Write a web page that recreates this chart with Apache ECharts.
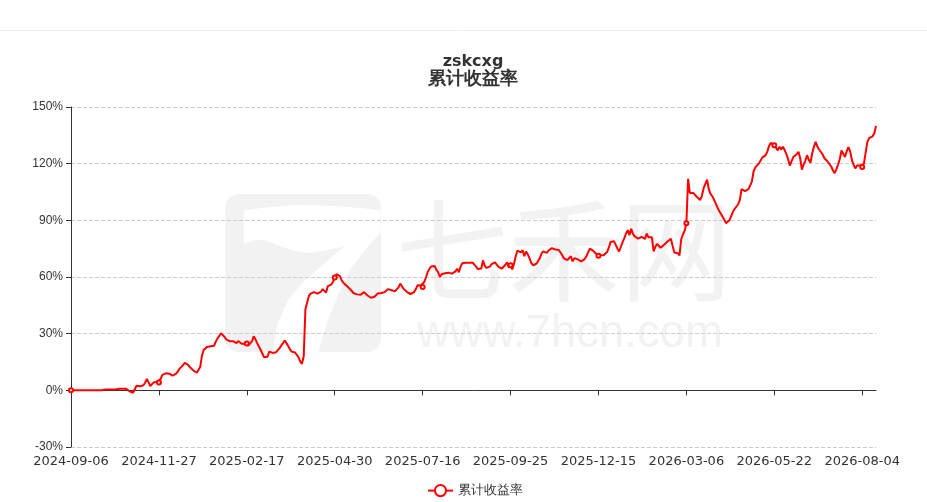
<!DOCTYPE html>
<html>
<head>
<meta charset="utf-8">
<script src="https://cdn.jsdelivr.net/npm/echarts@6/dist/echarts.min.js"></script>
<style>
html,body{margin:0;padding:0;background:#fff;}
#c{width:927px;height:502px;}
</style>
</head>
<body>
<div id="c"></div>
<script>
// ---- data ----
const TITLE_LINE1 = 'zskcxg';
const TITLE_LINE2 = '累计收益率';
const SERIES_NAME = '累计收益率';
const START_DATE = '2024-09-06';
const HOLIDAYS = [
  '2024-09-16','2024-09-17','2024-10-01','2024-10-02','2024-10-03','2024-10-04','2024-10-07',
  '2025-01-01','2025-01-28','2025-01-29','2025-01-30','2025-01-31','2025-02-03','2025-02-04',
  '2025-04-04','2025-05-01','2025-05-02','2025-05-05','2025-06-02',
  '2025-10-01','2025-10-02','2025-10-03','2025-10-06','2025-10-07','2025-10-08',
  '2026-01-01','2026-01-02','2026-02-16','2026-02-17','2026-02-18','2026-02-19','2026-02-20','2026-02-23',
  '2026-04-06','2026-05-01','2026-05-04','2026-05-05','2026-06-19'
];
const Y_MIN = -30, Y_MAX = 150, Y_STEP = 30;
const returns = [
  0,0,0,0,0,0,0,0,0,0,0,0,0,0,0,0,0,0,0,
  0.5,0.5,0.5,0.5,0.5,0.5,0.5,0.5,
  0.8,0.8,0.8,0.8,0.8,0.8,0.8,
  -0.5,-1.2,-1.3,-0.8,
  2.4,2.8,2.2,3.0,2.7,4.0,6.0,4.2,2.3,2.8,4.2,5.2,4.6,4.2,
  6.0,8.2,8.0,9.0,9.6,8.8,8.5,7.8,8.3,8.8,10.0,11.5,12.3,13.3,14.5,14.8,13.5,12.2,11.2,10.5,9.9,9.3,9.0,
  12.5,18.5,21.5,22.4,23.0,23.6,23.3,24.0,23.6,25.8,27.5,28.8,30.2,29.6,28.4,27.0,26.5,26.0,25.5,26.0,25.2,25.0,26.1,25.2,24.7,25.0,24.6,24.8,
  23.8,24.5,26.0,28.6,27.0,25.0,23.2,21.5,19.5,17.5,17.0,17.8,20.5,20.0,19.8,20.8,20.2,20.8,22.3,23.8,25.0,26.4,25.0,23.5,21.8,20.5,20.6,20.0,18.8,17.5,15.2,14.0,18.0,
  43.0,46.5,50.0,51.2,51.5,52.0,51.6,51.2,51.8,52.2,53.6,54.6,51.8,55.2,55.0,56.0,57.4,59.8,
  61.5,62.2,60.5,58.3,57.0,56.5,55.2,54.6,53.5,52.6,51.4,51.0,50.8,50.9,50.6,51.0,52.0,51.2,50.2,49.6,49.0,48.7,49.5,50.4,51.3,51.7,51.5,51.2,52.0,53.0,53.6,54.2,53.0,52.0,52.5,53.0,54.5,56.5,55.5,53.6,53.0,52.0,51.2,51.0,51.3,52.0,53.5,55.6,56.4,55.5,54.7,
  57.5,60.0,62.8,64.4,65.6,66.0,65.8,63.8,62.5,60.0,61.5,62.3,62.0,62.4,62.3,62.0,61.8,62.2,63.0,64.4,62.5,65.5,67.3,67.8,67.5,67.6,67.5,67.8,67.6,67.4,65.5,64.2,63.3,64.5,68.8,66.0,64.8,64.5,65.5,66.8,67.5,67.8,66.5,65.4,64.8,64.5,65.2,66.5,67.8,65.0,66.2,
  64.0,67.0,71.0,74.0,73.3,73.0,74.2,71.0,73.5,72.0,69.8,67.5,66.2,66.5,67.0,68.0,70.0,72.5,73.6,73.0,72.8,74.0,75.0,75.3,74.8,74.5,74.2,74.3,73.8,71.5,69.8,70.2,69.0,70.0,71.0,68.3,70.0,70.5,69.3,68.8,68.3,68.0,69.5,71.0,73.0,75.0,74.6,73.8,73.0,72.0,71.2,
  71.6,71.8,71.5,72.0,73.2,75.5,78.5,79.5,79.0,77.0,75.0,73.5,76.0,78.5,80.6,83.0,84.8,82.2,85.5,82.8,81.5,80.8,80.3,80.0,81.2,80.5,80.2,83.0,81.0,81.5,81.0,73.5,76.0,77.5,76.5,75.5,75.8,77.0,78.0,78.8,79.5,80.3,76.5,73.0,72.4,72.6,71.5,80.0,82.5,84.5,88.4,
  112.0,104.5,105.5,104.5,104.8,102.5,101.5,100.8,103.0,107.0,106.0,111.5,106.5,104.0,102.8,101.0,99.0,96.8,95.0,93.5,92.5,90.3,88.5,88.0,90.0,89.5,94.5,96.0,96.8,98.5,100.7,106.5,106.0,105.5,105.8,106.5,107.5,110.5,116.0,118.0,119.0,120.0,121.0,123.2,122.5,124.5,126.5,129.5,131.0,130.5,129.8,
  128.5,127.0,129.0,127.5,129.0,127.2,125.0,122.5,119.0,118.0,123.5,124.0,125.0,126.3,123.0,116.8,119.5,121.5,124.5,122.0,120.5,125.5,129.0,131.5,129.0,127.5,126.5,125.0,123.0,122.0,121.0,120.0,118.5,116.5,115.0,117.0,119.5,122.5,127.0,126.0,123.5,126.5,128.8,126.5,122.0,119.5,117.5,119.0,119.2,119.0,118.3,
  120.0,126.0,131.5,133.5,134.0,134.5,136.0,140.0
];

// trading-day calendar for the category axis
function tradingDays(start, count, holidays) {
  const off = new Set(holidays);
  const out = [];
  const d = new Date(start + 'T00:00:00Z');
  while (out.length < count) {
    const wd = d.getUTCDay();
    const s = d.toISOString().slice(0, 10);
    if (wd !== 0 && wd !== 6 && !off.has(s)) out.push(s);
    d.setUTCDate(d.getUTCDate() + 1);
  }
  return out;
}
const dates = tradingDays(START_DATE, returns.length, HOLIDAYS);
const LABEL_EVERY = 50;

const chart = echarts.init(document.getElementById('c'));
const WM = '#f2f2f2';
const logoCut = [
  [243.8,210.3],[270,207],[300,205],[335,206],[365.4,208.6],[380.6,210.3],[380.6,232.3],
  [365,250],[350,270],[338,295],[328,320],[318.1,352.2],[272.5,352.2],[277,325],[288,300],
  [303,282],[321.5,266.1],[340,250],[358.6,235.7],[345,246],[328,250],[310,253],[294.5,250.9],
  [280,246],[265,240],[255,240],[243.8,244.1]
];
chart.setOption({
  animation: false,
  backgroundColor: '#fff',
  textStyle: { fontFamily: 'sans-serif' },
  graphic: [
    { type: 'line', z: -20, shape: { x1: 0, y1: 30.5, x2: 927, y2: 30.5 }, style: { stroke: '#eeeeee', lineWidth: 1 } },
    { type: 'rect', z: -20, shape: { x: 225, y: 194, width: 156, height: 158, r: 14 }, style: { fill: WM } },
    { type: 'polygon', z: -19, shape: { points: logoCut }, style: { fill: '#ffffff' } },
    { type: 'text', z: -20, x: 396, y: 250, style: { text: '七禾网', fontSize: 112, fontFamily: '"Noto Sans CJK SC"', fill: WM, verticalAlign: 'middle' } },
    { type: 'text', z: -20, x: 417, y: 334, style: { text: 'www.7hcn.com', fontSize: 45.5, fontFamily: '"Liberation Sans"', fill: WM, verticalAlign: 'middle' } }
  ],
  title: {
    text: '{a|' + TITLE_LINE1 + '}\n{b|' + TITLE_LINE2 + '}',
    left: 468,
    top: 48,
    textAlign: 'center',
    textStyle: {
      rich: {
        a: { fontSize: 16, fontWeight: 'bold', fontFamily: '"DejaVu Sans"', color: '#333', lineHeight: 17, align: 'center' },
        b: { fontSize: 18, fontWeight: 'bold', color: '#333', lineHeight: 18, align: 'center' }
      }
    }
  },
  legend: {
    left: 422,
    top: 479,
    itemWidth: 25,
    itemHeight: 14,
    itemGap: 10,
    textStyle: { fontSize: 13, color: '#333' },
    data: [SERIES_NAME]
  },
  grid: { left: 71, right: 51, top: 107, bottom: 55, containLabel: false },
  xAxis: [
    {
      type: 'category',
      data: dates,
      boundaryGap: false,
      position: 'bottom',
      axisLine: { show: false, onZero: false },
      axisTick: { show: false },
      axisLabel: { interval: LABEL_EVERY, fontSize: 13, fontFamily: '"DejaVu Sans"', color: '#333', margin: 8 },
      splitLine: { show: false }
    },
    {
      type: 'category',
      data: dates,
      boundaryGap: false,
      position: 'bottom',
      axisLine: { show: true, onZero: true, lineStyle: { color: '#333', width: 1 } },
      axisTick: { show: true, interval: LABEL_EVERY, length: 5, lineStyle: { color: '#333' } },
      axisLabel: { show: false, interval: LABEL_EVERY },
      splitLine: { show: false }
    }
  ],
  yAxis: {
    type: 'value',
    min: Y_MIN,
    max: Y_MAX,
    interval: Y_STEP,
    axisLine: { show: true, lineStyle: { color: '#333' } },
    axisTick: { show: true, length: 5, lineStyle: { color: '#333' } },
    axisLabel: { formatter: '{value}%', fontSize: 12, color: '#333', margin: 8 },
    splitLine: { show: true, lineStyle: { type: 'dashed', color: '#cccccc' } }
  },
  series: [{
    name: SERIES_NAME,
    type: 'line',
    xAxisIndex: 0,
    data: returns,
    symbol: 'emptyCircle',
    symbolSize: 4,
    showSymbol: true,
    showAllSymbol: 'auto',
    lineStyle: { color: '#ff0000', width: 2 },
    itemStyle: { color: '#ff0000', borderWidth: 1 }
  }]
});
</script>
</body>
</html>
